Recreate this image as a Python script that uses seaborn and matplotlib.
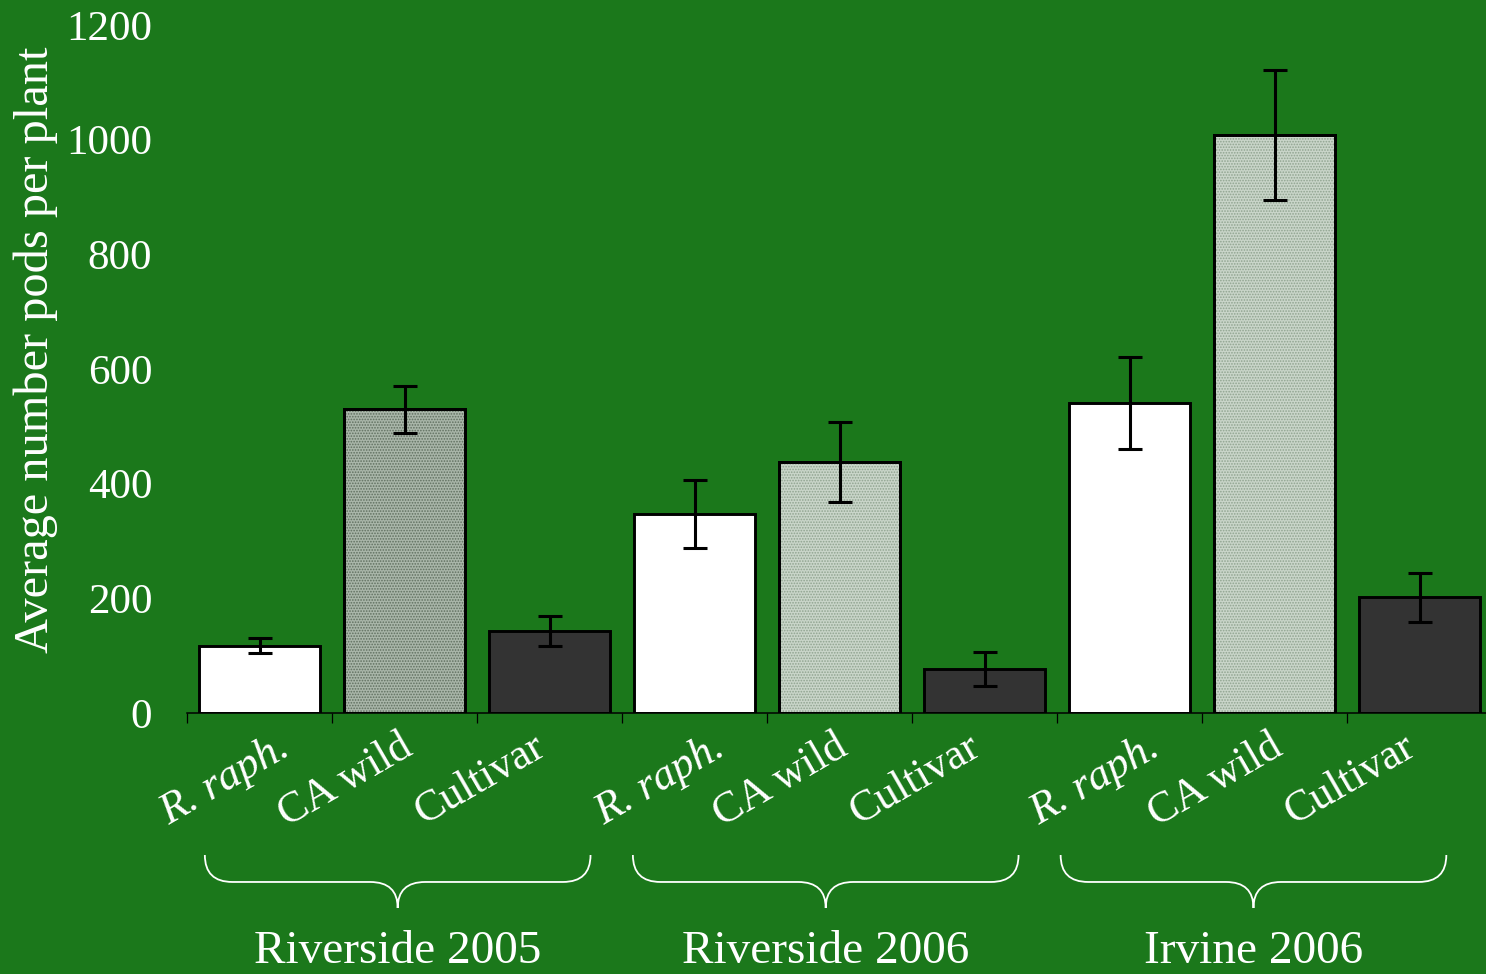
import matplotlib
matplotlib.use("Agg")
import matplotlib.pyplot as plt
import matplotlib.transforms as mtransforms
from matplotlib.path import Path
from matplotlib.patches import PathPatch, Rectangle
import numpy as np
import pandas as pd
import seaborn as sns

# ---- data -----------------------------------------------------------------
sites = ["Riverside 2005", "Riverside 2006", "Irvine 2006"]
plant_types = ["R. raph.", "CA wild", "Cultivar"]
pods_riverside_2005 = [117, 530, 143]
pods_riverside_2006 = [347, 438, 77]
pods_irvine_2006 = [541, 1008, 202]
se_riverside_2005 = [13, 41, 26]
se_riverside_2006 = [60, 70, 30]
se_irvine_2006 = [80, 113, 43]
y_ticks = [0, 200, 400, 600, 800, 1000, 1200]

rows = []
for site, vals, errs in zip(
    sites,
    [pods_riverside_2005, pods_riverside_2006, pods_irvine_2006],
    [se_riverside_2005, se_riverside_2006, se_irvine_2006],
):
    for ptype, v, e in zip(plant_types, vals, errs):
        rows.append({"site": site, "type": ptype, "pods": v, "se": e})
df = pd.DataFrame(rows)
df["slot"] = df["site"] + " | " + df["type"]

# ---- style ----------------------------------------------------------------
BG = "#1b781b"
FONT = ["Liberation Serif", "DejaVu Serif"]
sns.set_theme(style="white")
plt.rcParams["font.family"] = FONT
plt.rcParams["hatch.linewidth"] = 0.8

fill_for = {}
for site in sites:
    fill_for[site + " | R. raph."] = "#ffffff"
    fill_for[site + " | CA wild"] = "#a9b6a9" if site == "Riverside 2005" else "#c9d5c9"
    fill_for[site + " | Cultivar"] = "#333333"

# horizontal nudge (points) of each rotated category label
label_shift = {"R. raph.": 12, "CA wild": -4, "Cultivar": -13}

fig = plt.figure(figsize=(14.86, 9.74), dpi=100, facecolor=BG)
ax = fig.add_axes([187 / 1486, 1 - 713 / 974, 1305 / 1486, 688 / 974])
ax.set_facecolor(BG)

sns.barplot(
    data=df, x="slot", y="pods", hue="slot", palette=fill_for, legend=False,
    order=list(df["slot"]), hue_order=list(df["slot"]),
    width=0.83, edgecolor="black", linewidth=2.1, errorbar=None,
    saturation=1, ax=ax,
)

# stippled texture for the CA wild bars, then a crisp outline on top
for patch, ptype, site in zip(ax.patches, df["type"], df["site"]):
    if ptype != "CA wild":
        continue
    x0, y0 = patch.get_x(), patch.get_y()
    w, h = patch.get_width(), patch.get_height()
    dots = "#5f6f5f" if site == "Riverside 2005" else "#8fa38f"
    ax.add_patch(Rectangle((x0, y0), w, h, fill=False, hatch="......",
                           edgecolor=dots, linewidth=0, zorder=patch.get_zorder() + 0.01))
    ax.add_patch(Rectangle((x0, y0), w, h, fill=False, edgecolor="black",
                           linewidth=2.1, zorder=patch.get_zorder() + 0.02))

xpos = np.arange(len(df))
ax.errorbar(xpos, df["pods"], yerr=df["se"], fmt="none", ecolor="black",
            elinewidth=2.2, capsize=8.6, capthick=2.2, zorder=5)

ax.set_xlim(-0.5, len(df) - 0.5)
ax.set_ylim(0, 1200)
ax.set_yticks(y_ticks)
ax.set_yticklabels([str(t) for t in y_ticks])
for s in ["top", "right", "left"]:
    ax.spines[s].set_visible(False)
ax.spines["bottom"].set_color("black")
ax.spines["bottom"].set_linewidth(1.1)

ax.tick_params(axis="y", length=0, pad=25, labelsize=31, labelcolor="white")
ax.set_xticks(xpos)
ax.set_xticks(np.arange(-0.5, len(df), 1.0), minor=True)
ax.tick_params(axis="x", which="major", length=0, pad=10)
ax.tick_params(axis="x", which="minor", length=7, width=0.9, color="black",
               direction="out", bottom=True)
ax.set_xticklabels(list(df["type"]))
for lab, ptype in zip(ax.get_xticklabels(), df["type"]):
    lab.set_rotation(30)
    lab.set_ha("right")
    lab.set_va("top")
    lab.set_rotation_mode("anchor")
    lab.set_fontsize(31.5)
    lab.set_color("white")
    if ptype == "R. raph.":
        lab.set_style("italic")
    lab.set_transform(lab.get_transform() + mtransforms.ScaledTranslation(
        label_shift[ptype] / 72, 0, fig.dpi_scale_trans))

ax.set_xlabel("")
ax.set_ylabel("Average number pods per plant", fontsize=34.8, color="white")
ax.yaxis.set_label_coords(-0.0985, 0.5276)

# curly braces and site names under each group of bars
trans = mtransforms.blended_transform_factory(ax.transData, ax.transAxes)
brace_centers = [0.953, 3.905, 6.855]
half = 1.33
curl = 0.19
y_top, y_mid, y_tip = -0.2064, -0.2456, -0.2834
for cx, site in zip(brace_centers, sites):
    xl, xr = cx - half, cx + half
    verts = [
        (xl, y_top), (xl, y_mid), (xl + curl, y_mid),
        (cx - curl, y_mid),
        (cx, y_mid), (cx, y_tip),
        (cx, y_mid), (cx + curl, y_mid),
        (xr - curl, y_mid),
        (xr, y_mid), (xr, y_top),
    ]
    codes = [Path.MOVETO, Path.CURVE3, Path.CURVE3, Path.LINETO,
             Path.CURVE3, Path.CURVE3, Path.CURVE3, Path.CURVE3,
             Path.LINETO, Path.CURVE3, Path.CURVE3]
    ax.add_patch(PathPatch(Path(verts, codes), transform=trans, fill=False,
                           edgecolor="white", linewidth=1.3, clip_on=False))
    ax.text(cx, -0.3475, site, transform=trans, ha="center", va="center",
            fontsize=34, color="white")

fig.savefig("out.png", dpi=100, facecolor=BG)
